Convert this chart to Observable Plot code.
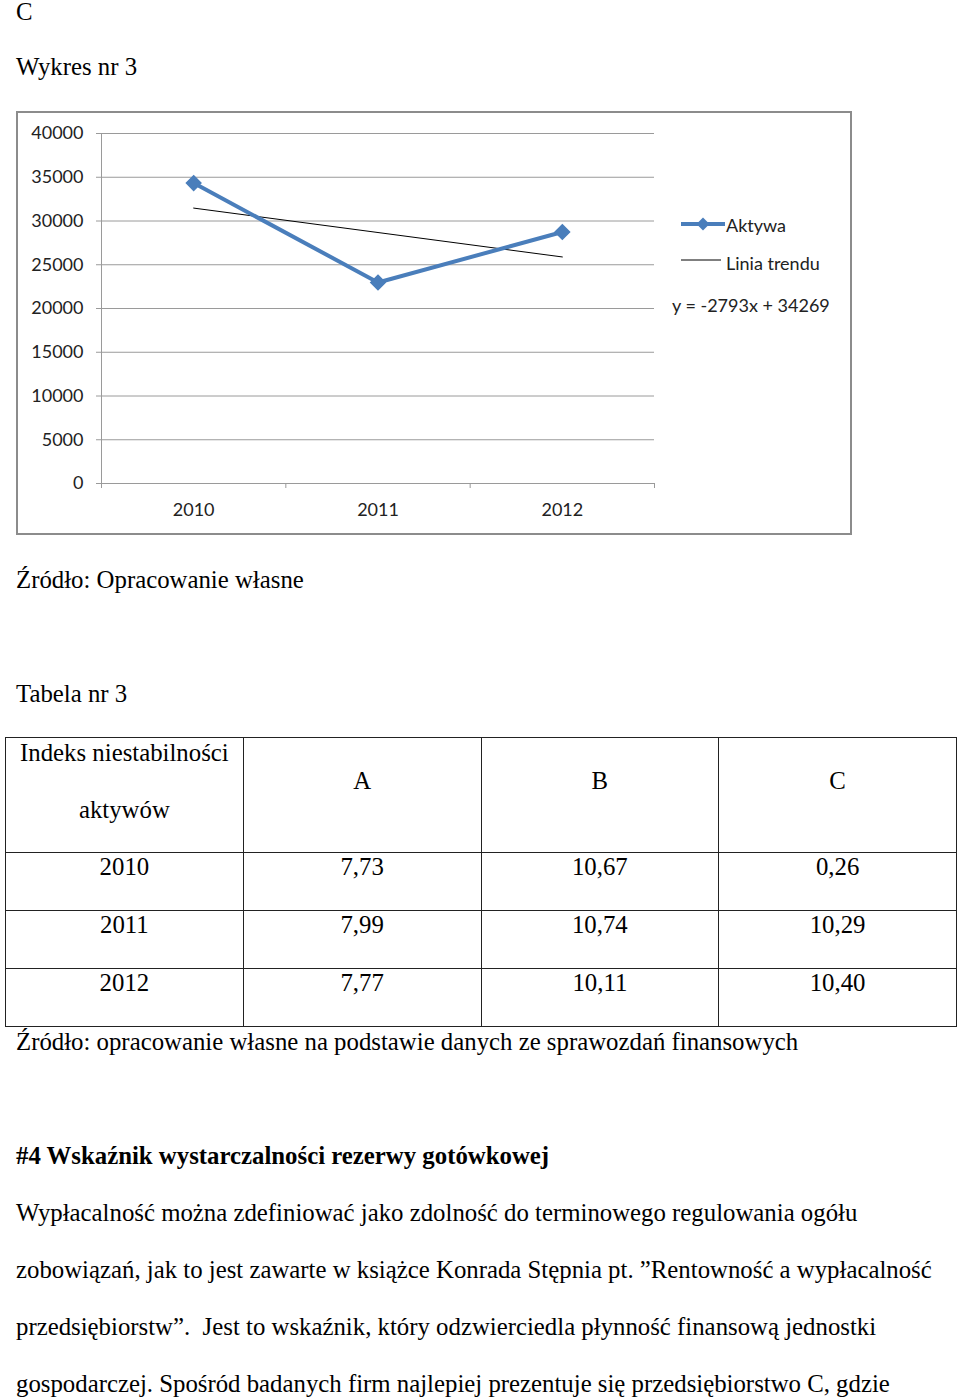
<!DOCTYPE html>
<html>
<head>
<meta charset="utf-8">
<script src="https://cdn.jsdelivr.net/npm/d3@7"></script>
<script src="https://cdn.jsdelivr.net/npm/@observablehq/plot@0.6"></script>
<style>
  html, body { margin: 0; padding: 0; background: #fff; }
  body { position: relative; width: 960px; height: 1400px; overflow: hidden;
         font-family: "Liberation Serif", "Times New Roman", serif; font-size: 24.8px; color: #000; }
  .t { position: absolute; left: 16px; line-height: 28px; white-space: nowrap; }
  #box { position: absolute; left: 16px; top: 111px; width: 832px; height: 420px;
         border: 2px solid #8c8c8c; background: #fff; }
  #chart { position: absolute; left: 0; top: 0; }
  .leg { position: absolute; font-family: Lato, sans-serif; font-size: 18px; color: #222;
         line-height: 22px; white-space: nowrap; }
  table { position: absolute; left: 5px; top: 737px; width: 952px; border-collapse: collapse;
          table-layout: fixed; }
  td { border: 1px solid #222; text-align: center; vertical-align: top; padding: 0;
       line-height: 28px; }
  tr.h td { height: 114px; }
  tr.r td { height: 57px; padding-top: 0px; }
</style>
</head>
<body>
<div class="t" style="top:2px; line-height:20px">C</div>
<div class="t" style="top:53px">Wykres nr 3</div>

<div id="box">
  <div id="chart"></div>
  <div id="legend"></div>
</div>

<div class="t" style="top:566px">Źródło: Opracowanie własne</div>
<div class="t" style="top:680px">Tabela nr 3</div>

<table id="tbl"></table>

<div class="t" style="top:1028px">Źródło: opracowanie własne na podstawie danych ze sprawozdań finansowych</div>
<div class="t" style="top:1142px; font-weight:bold">#4 Wskaźnik wystarczalności rezerwy gotówkowej</div>
<div class="t" style="top:1199px">Wypłacalność można zdefiniować jako zdolność do terminowego regulowania ogółu</div>
<div class="t" style="top:1256px">zobowiązań, jak to jest zawarte w książce Konrada Stępnia pt. ”Rentowność a wypłacalność</div>
<div class="t" style="top:1313px">przedsiębiorstw”.&nbsp; Jest to wskaźnik, który odzwierciedla płynność finansową jednostki</div>
<div class="t" style="top:1370px">gospodarczej. Spośród badanych firm najlepiej prezentuje się przedsiębiorstwo C, gdzie</div>

<script>
// ---- Data ----
const years = ["2010", "2011", "2012"];
const aktywa = [34330, 22975, 28744];
const trendLabel = "y = -2793x + 34269";
const yTicks = [0, 5000, 10000, 15000, 20000, 25000, 30000, 35000, 40000];

const tableHeader = ["A", "B", "C"];
const tableYears = ["2010", "2011", "2012"];
const tableA = ["7,73", "7,99", "7,77"];
const tableB = ["10,67", "10,74", "10,11"];
const tableC = ["0,26", "10,29", "10,40"];

// ---- Chart ----
const blue = "#4a7ebb";
const grid = "#9a9a9a";
const data = years.map((year, i) => ({i: i + 1, year, value: aktywa[i]}));
const diamond = d3.symbolDiamond2 || {
  draw(ctx, size) { const r = Math.sqrt(size) * 0.62625; ctx.moveTo(0, -r); ctx.lineTo(r, 0); ctx.lineTo(0, r); ctx.lineTo(-r, 0); ctx.closePath(); }
};

const chart = Plot.plot({
  width: 832,
  height: 420,
  marginLeft: 83,
  marginTop: 20,
  marginBottom: 50,
  marginRight: 196,
  style: {fontFamily: "Lato, sans-serif", fontSize: "18px", color: "#222", background: "#fff"},
  x: {type: "linear", domain: [0.5, years.length + 0.5]},
  y: {domain: [0, 40000]},
  marks: [
    Plot.gridY(yTicks, {stroke: grid, strokeOpacity: 1, strokeWidth: 1}),
    Plot.axisY(yTicks, {tickSize: 5, tickPadding: 13, stroke: grid, tickFormat: d => String(d), label: null}),
    Plot.ruleX([0.5], {stroke: grid, strokeWidth: 1}),
    Plot.ruleY([0], {stroke: grid, strokeWidth: 1}),
    Plot.axisX(d3.range(0.5, years.length + 1, 1), {tickSize: 5, stroke: grid, tickFormat: () => "", label: null}),
    Plot.axisX(d3.range(1, years.length + 1), {tickSize: 0, tickPadding: 20, tickFormat: d => years[d - 1], label: null}),
    Plot.linearRegressionY(data, {x: "i", y: "value", ci: 0, stroke: "#000", strokeWidth: 1}),
    Plot.line(data, {x: "i", y: "value", stroke: blue, strokeWidth: 4}),
    Plot.dot(data, {x: "i", y: "value", symbol: diamond, r: 6.5, fill: blue, stroke: blue})
  ]
});
document.getElementById("chart").appendChild(chart);

// ---- Legend (inside the chart box) ----
const legend = document.getElementById("legend");
legend.innerHTML = `
  <svg style="position:absolute;left:663px;top:104px" width="46" height="14">
    <line x1="0" y1="7" x2="44" y2="7" stroke="${blue}" stroke-width="4"/>
    <path d="M22,0.5 L28.5,7 L22,13.5 L15.5,7 Z" fill="${blue}"/>
  </svg>
  <div class="leg" style="left:708px;top:101px">Aktywa</div>
  <svg style="position:absolute;left:663px;top:144px" width="42" height="6">
    <line x1="0" y1="3" x2="40" y2="3" stroke="#000" stroke-width="1"/>
  </svg>
  <div class="leg" style="left:708px;top:139px">Linia trendu</div>
  <div class="leg" style="left:654px;top:181px">${trendLabel}</div>`;

// ---- Table ----
const tbl = document.getElementById("tbl");
let html = `<tr class="h"><td><div style="padding-top:1px">Indeks niestabilności</div><div style="margin-top:29px">aktywów</div></td>`;
tableHeader.forEach(h => { html += `<td><div style="padding-top:29px">${h}</div></td>`; });
html += `</tr>`;
tableYears.forEach((y, i) => {
  html += `<tr class="r"><td>${y}</td><td>${tableA[i]}</td><td>${tableB[i]}</td><td>${tableC[i]}</td></tr>`;
});
tbl.innerHTML = html;
</script>
</body>
</html>
